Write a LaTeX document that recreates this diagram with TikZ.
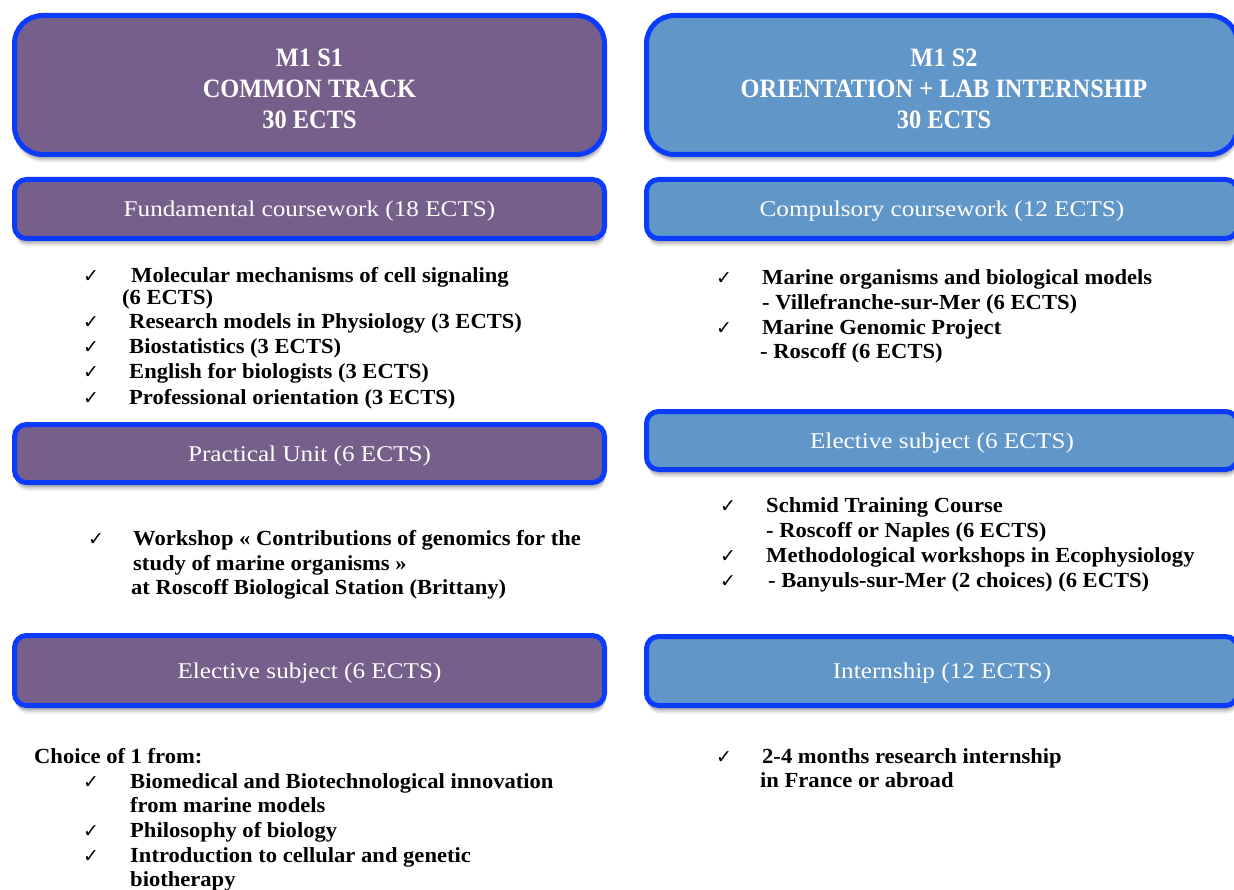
\documentclass[tikz,border=0pt]{standalone}
\usepackage{fontspec}
\setmainfont{Liberation Serif}
\newfontfamily\itemfam[FakeStretch=1.05]{Liberation Serif}
\newfontfamily\labfam[FakeStretch=1.12]{Liberation Serif}
\newfontfamily\titfam[FakeStretch=0.92]{Liberation Serif}
\newfontfamily\chkfam{DejaVu Sans}
\usetikzlibrary{shadows}
\definecolor{purp}{HTML}{775F8B}
\definecolor{sky}{HTML}{6196C9}
\definecolor{rim}{HTML}{0A3BFF}
\tikzset{
  box/.style={draw=rim, line width=5pt, inner sep=0pt, text=white,
    text height=15pt, text depth=0pt,
    font=\labfam\fontsize{22.5}{27}\selectfont,
    drop shadow={shadow xshift=1pt, shadow yshift=-8pt, opacity=0.08, fill=black},
    drop shadow={shadow xshift=1pt, shadow yshift=-6pt, opacity=0.12, fill=black},
    drop shadow={shadow xshift=0.5pt, shadow yshift=-4pt, opacity=0.15, fill=black}},
  bigbox/.style={box, rounded corners=28pt},
  smallbox/.style={box, rounded corners=12pt},
  title/.style={text=white, align=center, inner sep=0pt,
    font=\titfam\bfseries\fontsize{26.5}{31}\selectfont},
  itm/.style={anchor=base west, inner sep=0pt,
    font=\itemfam\bfseries\fontsize{21.5}{25}\selectfont},
  chk/.style={anchor=base west, inner sep=0pt,
    font=\chkfam\fontsize{19}{22}\selectfont},
}
\begin{document}
\begin{tikzpicture}[x=1pt,y=-1pt]
\useasboundingbox (0,0) rectangle (1234,890);
\fill[white] (0,0) rectangle (1234,890);

% ---- header boxes
\node[bigbox, fill=purp, minimum width=590pt, minimum height=139pt] (s1) at (309.5,85) {};
\node[title] (s1t) at (309.5,89) {M1 S1\\COMMON TRACK\\30 ECTS};
\node[bigbox, fill=sky, minimum width=591pt, minimum height=139pt] (s2) at (942,85) {};
\node[title] (s2t) at (944,89) {M1 S2\\ORIENTATION + LAB INTERNSHIP\\30 ECTS};

% ---- section boxes left
\node[smallbox, fill=purp, minimum width=590pt, minimum height=59pt] (fund) at (309.5,209) {Fundamental coursework (18 ECTS)};
\node[smallbox, fill=purp, minimum width=590pt, minimum height=58pt] (prac) at (309.5,453.5) {Practical Unit (6 ECTS)};
\node[smallbox, fill=purp, minimum width=590pt, minimum height=70pt] (elecl) at (309.5,670.5) {Elective subject (6 ECTS)};

% ---- section boxes right
\node[smallbox, fill=sky, minimum width=591pt, minimum height=59pt] (comp) at (942,209) {Compulsory coursework (12 ECTS)};
\node[smallbox, fill=sky, minimum width=591pt, minimum height=58pt] (elecr) at (942,440.5) {Elective subject (6 ECTS)};
\node[smallbox, fill=sky, minimum width=591pt, minimum height=69pt] (intern) at (942,671) {Internship (12 ECTS)};

% ---- left: fundamental coursework list
\node[chk] (c1) at (83,283) {✓};
\node[itm] (t1) at (131,283) {Molecular mechanisms of cell signaling};
\node[itm] (t1b) at (122,305) {(6 ECTS)};
\node[chk] (c2) at (83,329) {✓};
\node[itm] (t2) at (129,329) {Research models in Physiology (3 ECTS)};
\node[chk] (c3) at (83,354) {✓};
\node[itm] (t3) at (129,354) {Biostatistics (3 ECTS)};
\node[chk] (c4) at (83,379) {✓};
\node[itm] (t4) at (129,379) {English for biologists (3 ECTS)};
\node[chk] (c5) at (83,404) {✓};
\node[itm] (t5) at (129,404) {Professional orientation (3 ECTS)};

% ---- left: practical unit
\node[chk] (c6) at (88,545) {✓};
\node[itm] (t6) at (133,545) {Workshop « Contributions of genomics for the};
\node[itm] (t6b) at (133,570) {study of marine organisms »};
\node[itm] (t6c) at (131,594) {at Roscoff Biological Station (Brittany)};

% ---- left: elective
\node[itm] (t7) at (34,763) {Choice of 1 from:};
\node[chk] (c8) at (83,788) {✓};
\node[itm] (t8) at (130,788) {Biomedical and Biotechnological innovation};
\node[itm] (t8b) at (130,812) {from marine models};
\node[chk] (c9) at (83,837) {✓};
\node[itm] (t9) at (130,837) {Philosophy of biology};
\node[chk] (c10) at (83,862) {✓};
\node[itm] (t10) at (130,862) {Introduction to cellular and genetic};
\node[itm] (t10b) at (130,886) {biotherapy};

% ---- right: compulsory
\node[chk] (c11) at (716,285) {✓};
\node[itm] (t11) at (762,285) {Marine organisms and biological models};
\node[itm] (t11b) at (762,310) {- Villefranche-sur-Mer (6 ECTS)};
\node[chk] (c12) at (716,335) {✓};
\node[itm] (t12) at (762,335) {Marine Genomic Project};
\node[itm] (t12b) at (760,359) {- Roscoff (6 ECTS)};

% ---- right: elective
\node[chk] (c13) at (720,512) {✓};
\node[itm] (t13) at (766,512) {Schmid Training Course};
\node[itm] (t13b) at (766,537) {- Roscoff or Naples (6 ECTS)};
\node[chk] (c14) at (720,562) {✓};
\node[itm] (t14) at (766,562) {Methodological workshops in Ecophysiology};
\node[chk] (c15) at (720,587) {✓};
\node[itm] (t15) at (768,587) {- Banyuls-sur-Mer (2 choices) (6 ECTS)};

% ---- right: internship
\node[chk] (c16) at (716,763) {✓};
\node[itm] (t16) at (762,763) {2-4 months research internship};
\node[itm] (t16b) at (760,787) {in France or abroad};
\end{tikzpicture}
\end{document}
